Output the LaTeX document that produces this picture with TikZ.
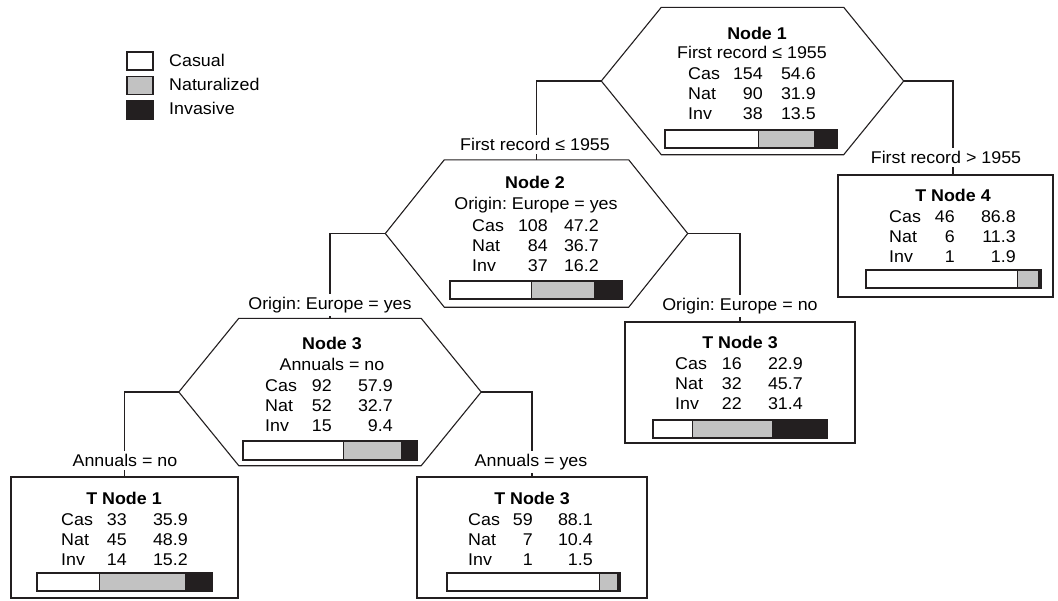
\documentclass[tikz,border=0pt]{standalone}
\usepackage{fontspec}
\setmainfont{Liberation Sans}[FakeStretch=1.05]
\usetikzlibrary{calc}
\definecolor{ink}{HTML}{231F20}
\definecolor{midgray}{HTML}{C2C2C2}
\tikzset{
  line/.style={draw=ink, line width=1.1pt},
  hexbox/.style={inner sep=0pt, minimum width=302pt, minimum height=147pt},
  termbox/.style={draw=ink, line width=1.1pt, inner sep=0pt},
  txt/.style={inner sep=0pt, font=\fontsize{17}{20}\selectfont, text=black},
  ttl/.style={inner sep=0pt, font=\fontsize{17}{20}\selectfont\bfseries, text=black},
  lbl/.style={txt, fill=white, inner xsep=2pt, inner ysep=3pt},
  legbox/.style={draw=ink, line width=1.1pt, minimum width=26pt, minimum height=18pt, inner sep=0pt},
}
\newcommand\hexagon[2]{%
  \draw[line, line join=miter] (#1.west) -- ($(#1.north west)+(#2,0)$) -- ($(#1.north east)+(-#2,0)$)
    -- (#1.east) -- ($(#1.south east)+(-#2,0)$) -- ($(#1.south west)+(#2,0)$) -- cycle;}
\newcommand\statrows[6]{%
  \foreach \a/\b/\c [count=\i] in {#6} {
    \node[txt, anchor=base west] (#1a\i) at (#2,{#5+20*(\i-1)}) {\a};
    \node[txt, anchor=base east] (#1b\i) at (#3,{#5+20*(\i-1)}) {\b};
    \node[txt, anchor=base east] (#1p\i) at (#4,{#5+20*(\i-1)}) {\c};
  }}
\newcommand\drawbar[6]{%
  \pgfmathsetmacro\xa{#1+(#2-#1)*#5/100}
  \pgfmathsetmacro\xb{\xa+(#2-#1)*#6/100}
  \fill[white] (#1,#3) rectangle (\xa,#4);
  \fill[midgray] (\xa,#3) rectangle (\xb,#4);
  \fill[ink] (\xb,#3) rectangle (#2,#4);
  \draw[line] (#1,#3) rectangle (#2,#4);
  \draw[line] (\xa,#3) -- (\xa,#4);}
\frenchspacing
\begin{document}
\begin{tikzpicture}[x=1pt,y=-1pt]
\useasboundingbox[fill=white] (0,0) rectangle (1058,600);
% legend
\node[legbox, fill=white] (lgc) at (140,61) {};
\node[legbox, fill=midgray] (lgn) at (140,85.5) {};
\node[legbox, fill=ink] (lgi) at (140,110) {};
\node[txt, anchor=base west] (lgct) at (169,66.5) {Casual};
\node[txt, anchor=base west] (lgnt) at (169,90) {Naturalized};
\node[txt, anchor=base west] (lgit) at (169,114.5) {Invasive};
% tree nodes
\node[hexbox] (n1) at (752.5,81) {};
\node[hexbox] (n2) at (536.5,233.5) {};
\node[hexbox] (n3) at (330,392) {};
\node[termbox, minimum width=215pt, minimum height=122pt] (t4) at (945.5,236) {};
\node[termbox, minimum width=230pt, minimum height=121pt] (t3r) at (740,382.5) {};
\node[termbox, minimum width=227pt, minimum height=121pt] (t1) at (124.5,537.5) {};
\node[termbox, minimum width=230pt, minimum height=121pt] (t3b) at (532,537.5) {};
\hexagon{n1}{60}
\hexagon{n2}{59}
\hexagon{n3}{60}
\coordinate (t4in) at (953,175);
% connectors
\draw[line] (n1.west) -| (n2.north);
\draw[line] (n1.east) -| (t4in);
\draw[line] (n2.west) -| (n3.north);
\draw[line] (n2.east) -| (t3r.north);
\draw[line] (n3.west) -| (t1.north);
\draw[line] (n3.east) -| (t3b.north);
% branch labels
\node[lbl, anchor=base] (l1) at (535,150.5) {First record ≤ 1955};
\node[lbl, anchor=base] (l4) at (946,163.5) {First record > 1955};
\node[lbl, anchor=base] (l2) at (330,309.5) {Origin: Europe = yes};
\node[lbl, anchor=base] (l3) at (740,310.5) {Origin: Europe = no};
\node[lbl, anchor=base] (l5) at (125,466.5) {Annuals = no};
\node[lbl, anchor=base] (l6) at (531,466.5) {Annuals = yes};
% node 1
\node[ttl, anchor=base] (n1t) at (757,39) {Node 1};
\node[txt, anchor=base] (n1k) at (752,58) {First record ≤ 1955};
\statrows{n1}{688}{763}{816}{79}{Cas/154/54.6,Nat/90/31.9,Inv/38/13.5}
\drawbar{665}{837}{130}{148}{54.6}{31.9}
% node 2
\node[ttl, anchor=base] (n2t) at (535,188) {Node 2};
\node[txt, anchor=base] (n2k) at (536,209) {Origin: Europe = yes};
\statrows{n2}{472}{548}{599}{231}{Cas/108/47.2,Nat/84/36.7,Inv/37/16.2}
\drawbar{450}{622}{281}{299}{47.2}{36.7}
% node 3
\node[ttl, anchor=base] (n3t) at (332,349) {Node 3};
\node[txt, anchor=base] (n3k) at (332,370) {Annuals = no};
\statrows{n3}{265}{332}{393}{391}{Cas/92/57.9,Nat/52/32.7,Inv/15/9.4}
\drawbar{243}{417}{441}{460}{57.9}{32.7}
% T node 4
\node[ttl, anchor=base] (t4t) at (953,201) {T Node 4};
\statrows{t4}{889}{955}{1016}{222}{Cas/46/86.8,Nat/6/11.3,Inv/1/1.9}
\drawbar{866}{1041}{270}{288}{86.8}{11.3}
% T node 3 (right)
\node[ttl, anchor=base] (t3rt) at (740,348) {T Node 3};
\statrows{t3r}{675}{742}{803}{369}{Cas/16/22.9,Nat/32/45.7,Inv/22/31.4}
\drawbar{653}{827}{420}{438}{22.9}{45.7}
% T node 1
\node[ttl, anchor=base] (t1t) at (124,504) {T Node 1};
\statrows{t1}{61}{127}{188}{525}{Cas/33/35.9,Nat/45/48.9,Inv/14/15.2}
\drawbar{37}{212}{573}{591}{35.9}{48.9}
% T node 3 (bottom)
\node[ttl, anchor=base] (t3bt) at (532,504) {T Node 3};
\statrows{t3b}{468}{533}{593}{525}{Cas/59/88.1,Nat/7/10.4,Inv/1/1.5}
\drawbar{447}{620}{573}{591}{88.1}{10.4}
\end{tikzpicture}
\end{document}
